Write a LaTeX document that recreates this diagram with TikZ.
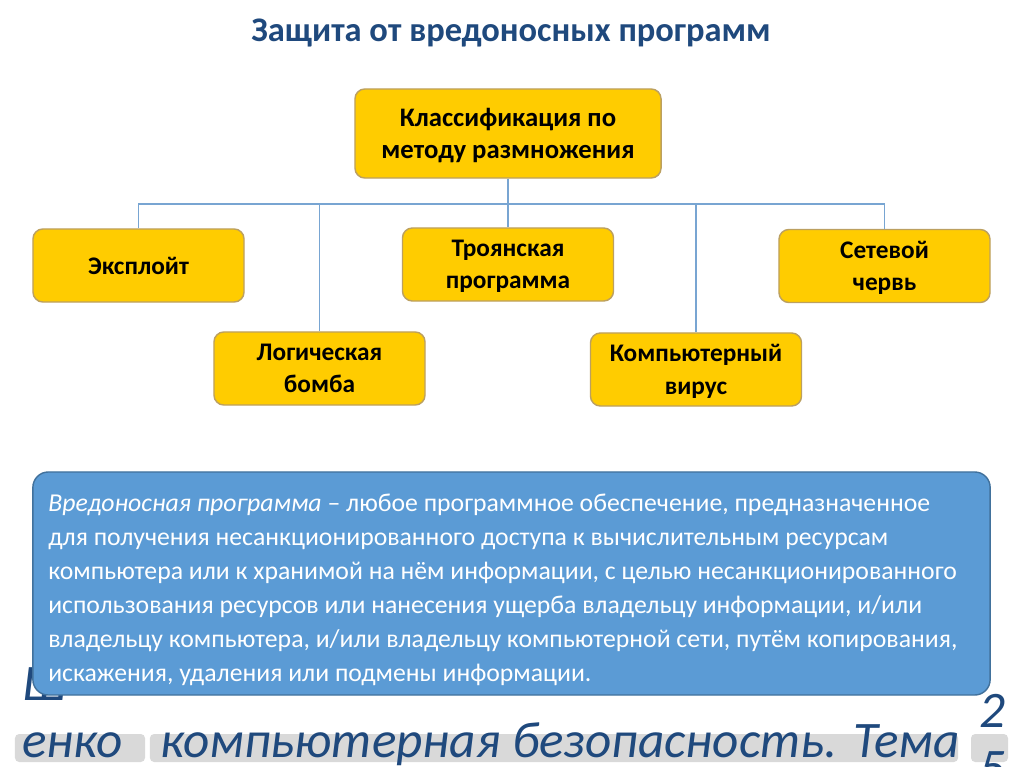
\documentclass[tikz,border=0pt]{standalone}
\usepackage{fontspec}
\setmainfont{Carlito}
\usetikzlibrary{positioning}
\definecolor{MalNavy}{RGB}{31,73,125}
\definecolor{MalYellow}{RGB}{255,204,0}
\definecolor{MalYellowEdge}{RGB}{188,160,96}
\definecolor{MalLine}{RGB}{120,165,210}
\definecolor{MalBlue}{RGB}{91,155,213}
\definecolor{MalBlueEdge}{RGB}{65,113,156}
\definecolor{MalGray}{RGB}{217,217,217}
\tikzset{
  mal/box/.style={
    draw=MalYellowEdge,
    line width=1pt,
    rounded corners=7pt,
    fill=MalYellow,
    align=center,
    text=black,
    minimum width=5.275cm,
    minimum height=1.825cm,
    inner sep=2pt,
    font=\bfseries\fontsize{18}{23}\selectfont
  },
  mal/pair/.style={mal/box, text depth=0pt},
  mal/root/.style={mal/pair, minimum width=7.65cm, minimum height=2.225cm, font=\bfseries\fontsize{19}{23}\selectfont},
  mal/line/.style={draw=MalLine, line width=0.8pt},
  mal/note/.style={
    draw=MalBlueEdge,
    line width=1pt,
    rounded corners=11pt,
    fill=MalBlue,
    minimum width=23.925cm,
    minimum height=5.575cm
  },
  mal/notetext/.style={text=white, align=left, inner sep=0pt, font=\fontsize{18.3}{24.2}\selectfont},
  mal/tab/.style={fill=MalGray, rounded corners=3pt, minimum height=0.7cm, inner sep=0pt},
  mal/foot/.style={text=MalNavy, inner sep=0pt, font=\itshape\fontsize{36.4}{40.5}\selectfont},
  mal/title/.style={text=MalNavy, font=\bfseries\fontsize{24.5}{28}\selectfont}
}
\begin{document}
\begin{tikzpicture}[x=0.025cm,y=-0.025cm]
  \useasboundingbox (0,0) rectangle (1024,767);
  \clip (0,0) rectangle (1024,767);
  \fill[white] (0,0) rectangle (1024,767);
  \node[mal/title] (title) at (511,33) {Защита от вредоносных программ};
  % tree
  \node[mal/root] (root) at (508,133.5) {Классификация по\\методу размножения};
  \node[mal/box] (exploit) at (138.5,265.5) {Эксплойт};
  \node[mal/pair] (trojan) at (508,264.5) {Троянская\\программа};
  \node[mal/pair] (worm) at (884.5,266) {Сетевой\\червь};
  \node[mal/pair] (bomb) at (319.5,368.5) {Логическая\\бомба};
  \node[mal/pair] (virus) at (696,369.5) {Компьютерный\\вирус};
  \coordinate (bus) at (508,204);
  \draw[mal/line] (root.south) -- (bus);
  \foreach \n in {exploit,bomb,trojan,virus,worm}{\draw[mal/line] (bus) -| (\n.north);}
  % footer
  \node[mal/foot,anchor=base west] (cut) at (22,700) {Ш};
  \node[mal/tab,minimum width=3.25cm] (tab1) at (80,748) {};
  \node[mal/tab,minimum width=20.2cm] (tab2) at (554,748) {};
  \node[mal/tab,minimum width=0.925cm] (tab3) at (989.5,748) {};
  \node[mal/foot,anchor=base west] (foot1) at (22,757) {енко};
  \node[mal/foot,anchor=base west] (foot2) at (160,757) {компьютерная безопасность. Тема};
  \node[mal/foot,align=center,anchor=base] (page) at (992,784) {2\\5};
  % definition
  \node[mal/note] (note) at (511.5,583.5) {};
  \node[mal/notetext,anchor=north west] (def) at (48,494) {\textit{Вредоносная программа} – любое программное обеспечение, предназначенное\\
    для получения несанкционированного доступа к вычислительным ресурсам\\
    компьютера или к хранимой на нём информации, с целью несанкционированного\\
    использования ресурсов или нанесения ущерба владельцу информации, и/или\\
    владельцу компьютера, и/или владельцу компьютерной сети, путём копирования,\\
    искажения, удаления или подмены информации.};
\end{tikzpicture}
\end{document}
